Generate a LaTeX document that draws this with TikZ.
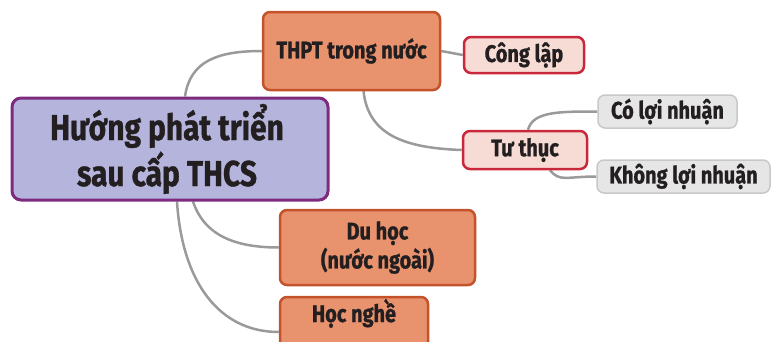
\documentclass[tikz,border=0pt]{standalone}
\usepackage{fontspec}
\setmainfont{Fira Sans}[FakeStretch=0.83,BoldFeatures={FakeBold=1}]
\usetikzlibrary{backgrounds}

\definecolor{ink}{HTML}{231F20}
\definecolor{linegray}{HTML}{9A9A9A}
\definecolor{rootfill}{HTML}{B4B4DC}
\definecolor{rootdraw}{HTML}{7E2A7E}
\definecolor{mainfill}{HTML}{E8926E}
\definecolor{maindraw}{HTML}{C4532B}
\definecolor{subfill}{HTML}{F7DCD5}
\definecolor{subdraw}{HTML}{C8283A}
\definecolor{leaffill}{HTML}{E6E6E6}
\definecolor{leafdraw}{HTML}{C8C8C8}

\begin{document}
\begin{tikzpicture}[x=1pt,y=-1pt,
  conn/.style={draw=linegray,line width=2.5pt},
  box/.style={rectangle,rounded corners=7pt,align=center,inner sep=0pt,
    text=ink,font=\bfseries\fontsize{24}{29}\selectfont},
  rootbox/.style={box,fill=rootfill,draw=rootdraw,line width=3pt,rounded corners=9pt,
    font=\bfseries\fontsize{36}{46}\selectfont},
  mainbox/.style={box,fill=mainfill,draw=maindraw,line width=2.5pt},
  subbox/.style={box,fill=subfill,draw=subdraw,line width=2.5pt},
  leafbox/.style={box,fill=leaffill,draw=leafdraw,line width=1.5pt}]
\useasboundingbox (0,0) rectangle (772,341);
\begin{scope}
\clip (0,0) rectangle (772,341);

% central topic
\node[rootbox,minimum width=316pt,minimum height=102pt] (root) at (170,149)
  {\raisebox{2pt}{Hướng phát triển}\hspace*{6pt}\\\raisebox{2pt}{sau cấp THCS}\hspace*{6pt}};

% first level branches
\node[mainbox,minimum width=177pt,minimum height=78pt] (thpt) at (351.5,51) {THPT trong nước};
\node[mainbox,minimum width=195pt,minimum height=75pt] (du) at (377.5,247.5) {Du học\\(nước ngoài)};
\node[mainbox,minimum width=148pt,minimum height=56pt] (nghe) at (354,325) {\raisebox{3pt}[0pt][0pt]{Học nghề}};

% second level
\node[subbox,minimum width=120pt,minimum height=36pt] (cong) at (524,55) {Công lập};
\node[subbox,minimum width=124pt,minimum height=38pt] (tu) at (525,150) {Tư thục};

% third level
\node[leafbox,minimum width=139pt,minimum height=33pt] (co) at (667.5,111.5) {Có lợi nhuận};
\node[leafbox,minimum width=173pt,minimum height=33pt] (khong) at (683.5,176.5) {Không lợi nhuận};

% connectors
\begin{scope}[on background layer]
\draw[conn] ([xshift=15pt]root.north) .. controls +(5,-35) and +(-45,0) .. (thpt.west);
\draw[conn] ([xshift=23pt]root.south) .. controls +(10,30) and +(-50,0) .. (du.west);
\draw[conn] ([xshift=7pt]root.south) .. controls +(5,80) and +(-60,0) .. ([yshift=-7pt]nghe.west);
\draw[conn] (thpt.east) -- (cong.west);
\draw[conn] ([xshift=12pt]thpt.south) .. controls +(5,45) and +(-55,-2) .. (tu.west);
\draw[conn] ([xshift=3pt]tu.north) .. controls +(5,-18) and +(-40,0) .. (co.west);
\draw[conn] ([xshift=25pt]tu.south) .. controls +(10,12) and +(-30,0) .. (khong.west);
\end{scope}
\end{scope}
\end{tikzpicture}
\end{document}
